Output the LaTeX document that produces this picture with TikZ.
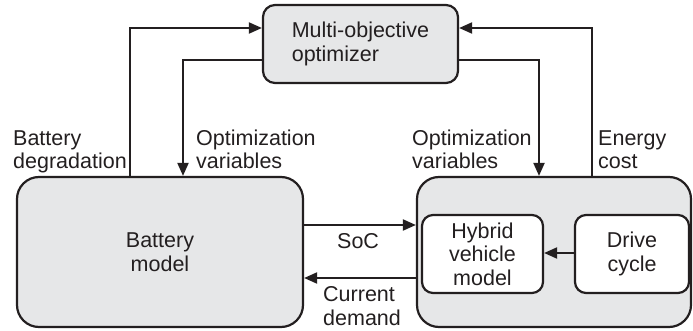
\documentclass[tikz,border=0pt]{standalone}
\usepackage{fontspec}
\setmainfont{Liberation Sans}
\usetikzlibrary{arrows.meta}
\definecolor{boxfill}{HTML}{E6E7E8}
\definecolor{ink}{HTML}{231F20}
\begin{document}
\begin{tikzpicture}[x=1pt,y=-1pt,
  every node/.style={font=\fontsize{21.5}{23.5}\selectfont, text=ink},
  block/.style={draw=ink, line width=2.2pt, fill=boxfill, inner sep=0pt},
  subblock/.style={draw=ink, line width=2.2pt, fill=white, inner sep=0pt,
    rounded corners=11pt, align=center, minimum height=78pt},
  link/.style={draw=ink, line width=2pt, -{Triangle[length=13pt,width=11pt]}},
  lbl/.style={anchor=base west, align=left, inner sep=0pt}]
\useasboundingbox (0,0) rectangle (693,331);

% main blocks
\node[block, rounded corners=12pt, minimum width=195pt, minimum height=78pt,
  align=left] (opt) at (360.5,44) {Multi-objective\\optimizer};
\node[block, rounded corners=22pt, minimum width=286pt, minimum height=150pt,
  align=center] (bat) at (160,252) {Battery\\model};
\node[block, rounded corners=22pt, minimum width=274pt, minimum height=150pt]
  (rb) at (554,252) {};
\node[subblock, minimum width=121pt] (hyb) at (482.5,254) {Hybrid\\vehicle\\model};
\node[subblock, minimum width=114pt] (drv) at (632,254) {Drive\\cycle};

% routing helpers
\coordinate (degx) at (130,0);
\coordinate (ovlx) at (183,0);
\coordinate (ovrx) at (539,0);
\coordinate (enx) at (592,0);
\coordinate (upy) at (0,28);
\coordinate (dny) at (0,60);
\coordinate (socy) at (0,225);
\coordinate (cdy) at (0,278);
\coordinate (dcy) at (0,253);

% connectors
\draw[link] (degx |- bat.north) |- (opt.west |- upy);
\draw[link] (opt.west |- dny) -| (ovlx |- bat.north);
\draw[link] (opt.east |- dny) -| (ovrx |- rb.north);
\draw[link] (enx |- rb.north) |- (opt.east |- upy);
\draw[link] (bat.east |- socy) -- (rb.west |- socy);
\draw[link] (rb.west |- cdy) -- (bat.east |- cdy);
\draw[link] (drv.west |- dcy) -- (hyb.east |- dcy);

% connector labels (anchored on the baseline of their last line)
\node[lbl] (ldeg) at (13,169) {Battery\\degradation};
\node[lbl] (lovl) at (196,169) {Optimization\\variables};
\node[lbl] (lovr) at (412,169) {Optimization\\variables};
\node[lbl] (len) at (598,169) {Energy\\cost};
\node[lbl] (lsoc) at (337,248) {SoC};
\node[lbl] (lcd) at (323,325) {Current\\demand};
\end{tikzpicture}
\end{document}
